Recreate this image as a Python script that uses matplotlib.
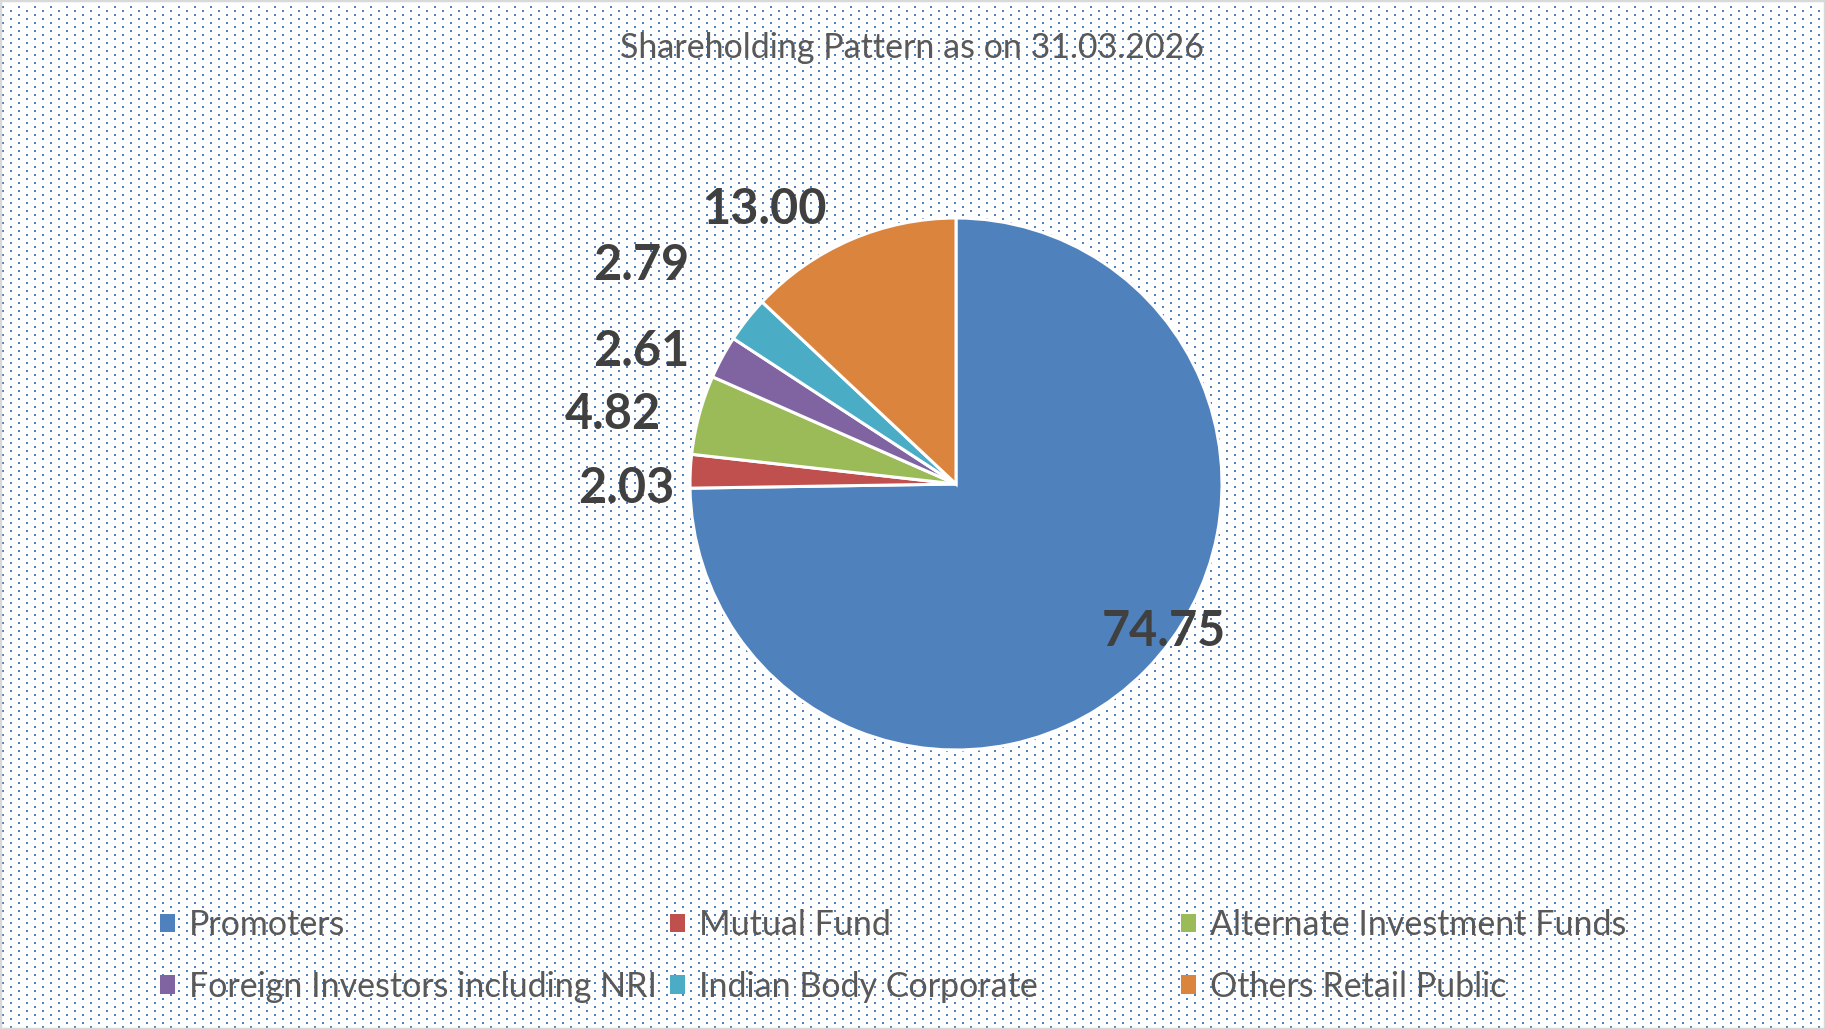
import matplotlib.pyplot as plt
import numpy as np
from matplotlib.patches import Patch, Rectangle

# data
categories = ['Promoters', 'Mutual Fund', 'Alternate Investment Funds',
              'Foreign Investors including NRI', 'Indian Body Corporate',
              'Others Retail Public']
values = [74.75, 2.03, 4.82, 2.61, 2.79, 13.00]
colors = ['#4F81BD', '#C0504D', '#9BBB59', '#8064A2', '#4BACC6', '#DB843D']
title = 'Shareholding Pattern as on 31.03.2026'

# label placement (angle shift in degrees from wedge middle, distance in radii)
label_shift = [10, 2.8, 3, 5, 3, 11]
label_dist = [0.95, 1.24, 1.32, 1.29, 1.45, 1.27]

W, H = 1825, 1029
fig = plt.figure(figsize=(W / 100, H / 100), dpi=100)
fig.patch.set_facecolor('white')

# dotted background like the office chart area fill
bg = np.ones((H, W, 3))
dot = np.array([79, 129, 189]) / 255.0
for r in range(6, H - 2, 4):
    off = 10 if (r // 4) % 2 == 0 else 2
    for c in range(off, W - 2, 16):
        bg[r:r + 2, c:c + 2] = dot
fig.figimage(bg, xo=0, yo=0, zorder=-1)
fig.patches.append(Rectangle((0, 0), 1, 1, transform=fig.transFigure, fill=False,
                             edgecolor='#D9D9D9', linewidth=2.5, zorder=5))

# pie axes: centre (956, 484) px, radius 266 px
cx, cy, rad = 956, 484, 266
half = 420
ax = fig.add_axes([(cx - half) / W, (H - cy - half) / H, 2 * half / W, 2 * half / H])

wedges, _ = ax.pie(values, colors=colors, startangle=90, counterclock=False,
                   radius=1, wedgeprops=dict(edgecolor='white', linewidth=2.2))
ax.set_xlim(-half / rad, half / rad)
ax.set_ylim(-half / rad, half / rad)
ax.set_aspect('equal')
ax.axis('off')

dy = -4.0 / rad  # small nudge down so the digits sit like the original
for w, v, s, d in zip(wedges, values, label_shift, label_dist):
    ang = np.deg2rad((w.theta1 + w.theta2) / 2 + s)
    ax.text(d * np.cos(ang), d * np.sin(ang) + dy, '%.2f' % v, ha='center', va='center',
            fontsize=35, fontweight='bold', color='#404040', family='Lato')

fig.text(912 / W, 1 - 48 / H, title, ha='center', va='center', fontsize=24.5,
         color='#595959', family='Lato')

# legend: three columns, two rows
col_x = [160, 670, 1181]
for i, x in enumerate(col_x):
    idx = [i, i + 3]
    handles = [Patch(facecolor=colors[k], edgecolor='none') for k in idx]
    fig.legend(handles, [categories[k] for k in idx], loc='center left',
               bbox_to_anchor=(x / W, 1 - 956 / H), frameon=False,
               prop=dict(family='Lato', size=24.5), labelcolor='#595959',
               handlelength=0.45, handleheight=0.45, handletextpad=0.4,
               labelspacing=0.86, borderpad=0, borderaxespad=0)

fig.savefig('out.png', dpi=100, facecolor='white')
